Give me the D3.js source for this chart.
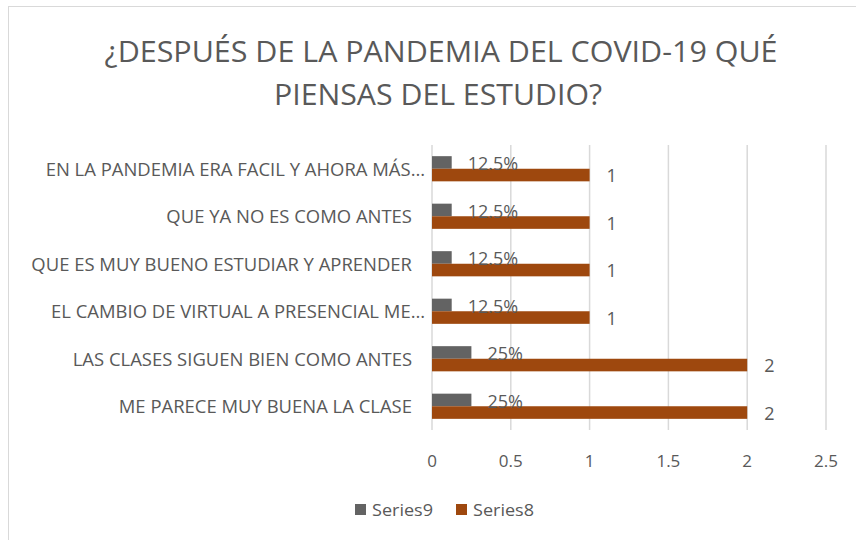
<!DOCTYPE html>
<meta charset="utf-8">
<script src="https://d3js.org/d3.v7.min.js"></script>
<style>
  body { margin: 0; background: #fff; }
  text { font-family: "Open Sans", sans-serif; fill: #595959; }
  .grid line { stroke: #d9d9d9; stroke-width: 1.5px; }
</style>
<div id="chart"></div>
<script>
// data (top to bottom)
var categories = [
  "EN LA PANDEMIA ERA FACIL Y AHORA MÁS…",
  "QUE YA NO ES COMO ANTES",
  "QUE ES MUY BUENO ESTUDIAR Y APRENDER",
  "EL CAMBIO DE VIRTUAL A PRESENCIAL ME…",
  "LAS CLASES SIGUEN BIEN COMO ANTES",
  "ME PARECE MUY BUENA LA CLASE"
];
var series9 = [0.125, 0.125, 0.125, 0.125, 0.25, 0.25];
var series9Labels = ["12.5%", "12.5%", "12.5%", "12.5%", "25%", "25%"];
var series8 = [1, 1, 1, 1, 2, 2];
var xTicks = [0, 0.5, 1, 1.5, 2, 2.5];
var seriesNames = ["Series9", "Series8"];
var colors = ["#636363", "#9e480e"];

var W = 856, H = 540;
var svg = d3.select("#chart").append("svg")
  .attr("width", W).attr("height", H);

// chart border
svg.append("rect")
  .attr("x", 8.5).attr("y", 6.5)
  .attr("width", 900).attr("height", 600)
  .attr("fill", "#fff").attr("stroke", "#d9d9d9");

// title (squeezed to the width of the original font)
var titleLines = ["¿DESPUÉS DE LA PANDEMIA DEL COVID-19 QUÉ", "PIENSAS DEL ESTUDIO?"];
var titleX = [441, 438], titleY = [62, 105], titleW = [673, 328];
titleLines.forEach(function(t, i) {
  svg.append("text")
    .attr("x", titleX[i]).attr("y", titleY[i])
    .attr("text-anchor", "middle")
    .style("font-size", "30px")
    .attr("textLength", titleW[i])
    .attr("lengthAdjust", "spacingAndGlyphs")
    .text(t);
});

// scales
var x = d3.scaleLinear().domain([0, 2.5]).range([432, 826]);
var y = d3.scaleBand().domain(categories).range([145, 430])
  .paddingInner(0.47).paddingOuter(0.235);
var sub = d3.scaleBand().domain([0, 1]).range([0, y.bandwidth()]);

// gridlines
svg.append("g")
  .attr("class", "grid")
  .selectAll("line")
  .data(xTicks)
  .enter().append("line")
    .attr("x1", function(d) { return x(d); })
    .attr("x2", function(d) { return x(d); })
    .attr("y1", 145).attr("y2", 430);

// x tick labels
svg.append("g")
  .selectAll("text")
  .data(xTicks)
  .enter().append("text")
    .attr("x", function(d) { return x(d); })
    .attr("y", 467)
    .attr("text-anchor", "middle")
    .style("font-size", "17px")
    .text(function(d) { return d; });

// category labels, horizontally squeezed like Calibri
var probe = svg.append("text").style("font-size", "18px").text(categories[2]);
var sx = 381 / probe.node().getComputedTextLength();
probe.remove();

svg.append("g")
  .selectAll("g")
  .data(categories)
  .enter().append("g")
    .attr("transform", function(d) {
      var xr = d.slice(-1) == "…" ? 425 : 412;
      return "translate(" + xr + "," + (y(d) + y.bandwidth() / 2 + 7) + ") scale(" + sx + ",1)";
    })
  .append("text")
    .attr("text-anchor", "end")
    .style("font-size", "18px")
    .text(function(d) { return d; });

// bars
var rows = categories.map(function(c, i) {
  return { cat: c, v9: series9[i], l9: series9Labels[i], v8: series8[i] };
});

svg.append("g")
  .selectAll("rect")
  .data(rows)
  .enter().append("rect")
    .attr("x", x(0))
    .attr("y", function(d) { return y(d.cat) + sub(0); })
    .attr("width", function(d) { return x(d.v9) - x(0); })
    .attr("height", sub.bandwidth())
    .attr("fill", colors[0]);

svg.append("g")
  .selectAll("rect")
  .data(rows)
  .enter().append("rect")
    .attr("x", x(0))
    .attr("y", function(d) { return y(d.cat) + sub(1); })
    .attr("width", function(d) { return x(d.v8) - x(0); })
    .attr("height", sub.bandwidth())
    .attr("fill", colors[1]);

// data labels
svg.append("g")
  .selectAll("text")
  .data(rows)
  .enter().append("text")
    .attr("x", function(d) { return x(d.v9) + 16; })
    .attr("y", function(d) { return y(d.cat) + sub(0) + sub.bandwidth() / 2 + 8; })
    .style("font-size", "18px")
    .text(function(d) { return d.l9; });

svg.append("g")
  .selectAll("text")
  .data(rows)
  .enter().append("text")
    .attr("x", function(d) { return x(d.v8) + 17; })
    .attr("y", function(d) { return y(d.cat) + sub(1) + sub.bandwidth() / 2 + 7; })
    .style("font-size", "18px")
    .text(function(d) { return d.v8; });

// legend
var legX = [355, 456];
seriesNames.forEach(function(s, i) {
  svg.append("rect")
    .attr("x", legX[i]).attr("y", 504)
    .attr("width", 11).attr("height", 11)
    .attr("fill", colors[i]);
  svg.append("text")
    .attr("x", legX[i] + 17).attr("y", 516)
    .style("font-size", "17px")
    .attr("textLength", 61)
    .attr("lengthAdjust", "spacingAndGlyphs")
    .text(s);
});
</script>
